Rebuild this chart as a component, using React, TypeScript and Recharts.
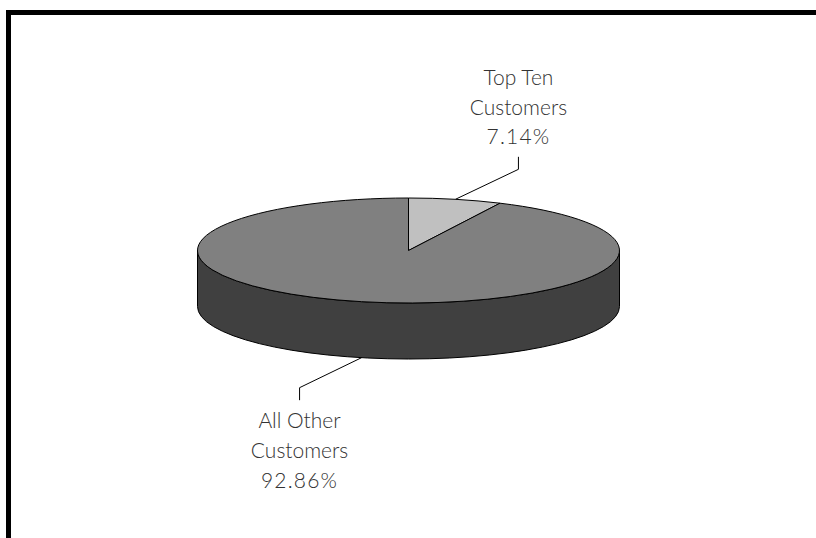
import { PieChart, Pie, Cell } from "recharts";

const segmentNames = [["Top Ten", "Customers"], ["All Other", "Customers"]];
const segmentValues = [7.14, 92.86];
const segmentColors = ["#c0c0c0", "#808080"];

const WIDTH = 816;
const HEIGHT = 538;
const SQUASH = 52.5 / 211; // vertical flattening of the disc
const DEPTH = 56;
const RAD = Math.PI / 180;

const data = segmentValues.map((value, i) => ({
  name: segmentNames[i],
  value,
}));

const ellipsePoint = (cx: number, cy: number, r: number, angle: number) => ({
  x: cx + r * Math.cos(angle * RAD),
  y: cy - r * SQUASH * Math.sin(angle * RAD),
});

// Flattened sector plus the visible part of its side wall
const DiscSector = (props: any) => {
  const { cx, cy, outerRadius: r, startAngle, endAngle, fill } = props;
  const ry = r * SQUASH;
  const start = ellipsePoint(cx, cy, r, startAngle);
  const end = ellipsePoint(cx, cy, r, endAngle);
  const large = Math.abs(startAngle - endAngle) > 180 ? 1 : 0;
  const top = `M${cx},${cy} L${start.x},${start.y} A${r},${ry} 0 ${large} 1 ${end.x},${end.y} Z`;

  // the wall only shows on the front half, between 180 and 360 degrees
  const wallFrom = ellipsePoint(cx, cy, r, 180);
  const wallTo = ellipsePoint(cx, cy, r, 360);
  const showWall = Math.abs(startAngle - endAngle) > 180;
  const wall =
    `M${wallFrom.x},${wallFrom.y} L${wallFrom.x},${wallFrom.y + DEPTH} ` +
    `A${r},${ry} 0 0 0 ${wallTo.x},${wallTo.y + DEPTH} L${wallTo.x},${wallTo.y} ` +
    `A${r},${ry} 0 0 1 ${wallFrom.x},${wallFrom.y} Z`;

  return (
    <g>
      {showWall && <path d={wall} fill="#404040" stroke="#000" strokeWidth={1} />}
      <path d={top} fill={fill} stroke="#000" strokeWidth={1} />
    </g>
  );
};

const SegmentLabel = (props: any) => {
  const { cx, cy, outerRadius: r, midAngle, name, value } = props;
  const p = ellipsePoint(cx, cy, r, midAngle);
  const up = Math.sin(midAngle * RAD) > 0;
  const dir = up ? -1 : 1;
  const startY = up ? p.y : p.y + DEPTH;
  const elbowX = p.x + (up ? 63 : -62);
  const elbowY = startY + dir * 30;
  const endY = elbowY + dir * 12.5;
  // first baseline sits above the leader for the upper label, below it for the lower one
  const firstBaseline = up ? endY - 72 : endY + 28;
  const lines = [...name, `${value.toFixed(2)}%`];

  return (
    <g>
      <polyline
        points={`${p.x},${startY} ${elbowX},${elbowY} ${elbowX},${endY}`}
        fill="none"
        stroke="#000"
        strokeWidth={1}
      />
      <text
        x={elbowX}
        textAnchor="middle"
        fontFamily="Lato, sans-serif"
        fontWeight={300}
        fontSize={21}
        fill="#333"
      >
        {lines.map((line, i) => (
          <tspan
            key={i}
            x={elbowX}
            y={firstBaseline + i * 29.8}
            letterSpacing={i === 2 ? 1.2 : 0}
          >
            {line}
          </tspan>
        ))}
      </text>
    </g>
  );
};

export default function App() {
  return (
    <div
      style={{
        position: "absolute",
        left: 0,
        top: 0,
        width: WIDTH,
        height: HEIGHT,
        background: "#fff",
        overflow: "hidden",
      }}
    >
      <div
        style={{
          position: "absolute",
          left: 6,
          top: 10,
          width: WIDTH,
          height: HEIGHT,
          borderTop: "5px solid #000",
          borderLeft: "5px solid #000",
        }}
      />
      <div style={{ position: "absolute", left: 0, top: 0 }}>
        <PieChart width={WIDTH} height={HEIGHT} margin={{ top: 0, right: 0, bottom: 0, left: 0 }}>
          <Pie
            data={data}
            dataKey="value"
            cx={408.5}
            cy={250.5}
            innerRadius={0}
            outerRadius={211}
            startAngle={90}
            endAngle={-270}
            paddingAngle={0}
            shape={DiscSector}
            label={SegmentLabel}
            labelLine={false}
            isAnimationActive={false}
          >
            {data.map((_, i) => (
              <Cell key={i} fill={segmentColors[i]} />
            ))}
          </Pie>
        </PieChart>
      </div>
    </div>
  );
}
